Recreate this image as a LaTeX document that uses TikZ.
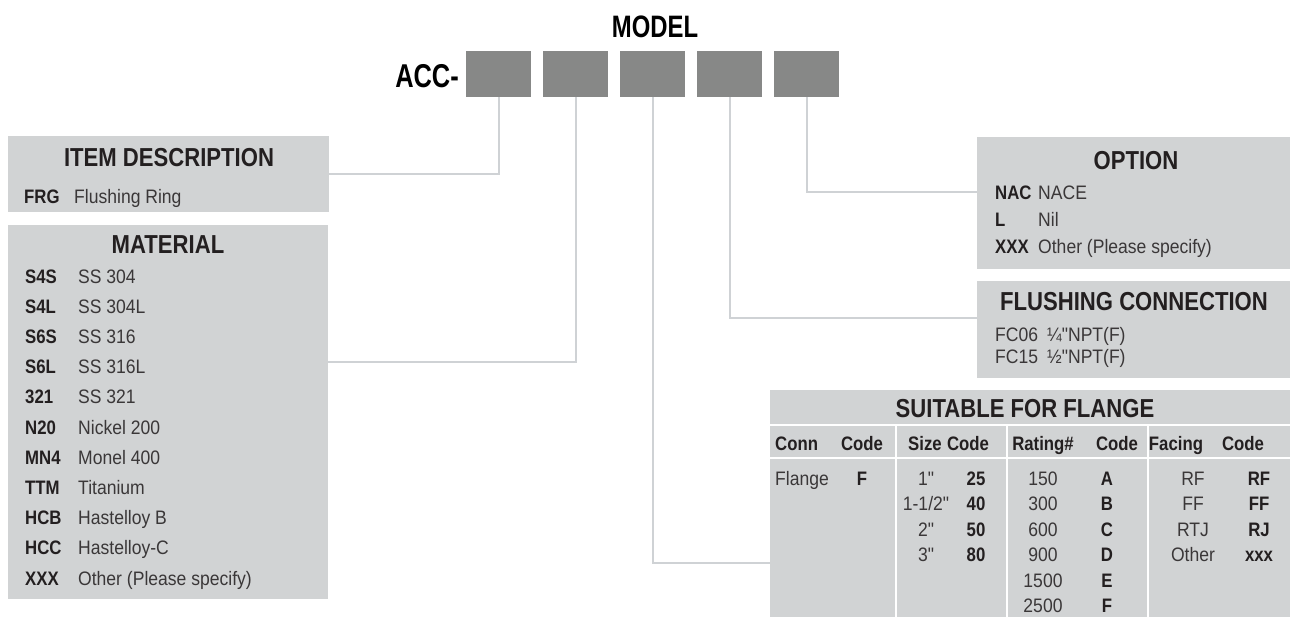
\documentclass[tikz,border=0pt]{standalone}
\usepackage{fontspec}
\setmainfont{Liberation Sans}[FakeStretch=0.9]
\newfontfamily\bdfont{Liberation Sans}[FakeStretch=0.9]
\newfontfamily\cdfont{Liberation Sans}[FakeStretch=0.86]
\newfontfamily\hdfont{Liberation Sans}[FakeStretch=0.85]
\newfontfamily\mdfont{Liberation Sans}[FakeStretch=0.77]
\usetikzlibrary{calc,positioning}
\definecolor{panelc}{HTML}{D1D3D4}
\definecolor{linec}{HTML}{CFD2D5}
\definecolor{slotc}{HTML}{878887}
\definecolor{inkc}{HTML}{231F20}
\definecolor{txtc}{HTML}{3A3738}
\tikzset{
  slot/.style={fill=slotc,minimum width=65pt,minimum height=46pt,inner sep=0pt},
  panel/.style={fill=panelc,anchor=north west,inner sep=0pt},
  cn/.style={linec,line width=2pt},
  tabsep/.style={white,line width=2pt},
  ttl/.style={font=\hdfont\bfseries\fontsize{26}{28}\selectfont,text=inkc,anchor=base,inner sep=0pt},
  big/.style={font=\mdfont\bfseries\fontsize{31}{34}\selectfont,text=black,inner sep=0pt},
  cd/.style={font=\cdfont\bfseries\fontsize{19.5}{22}\selectfont,text=inkc,anchor=base west,inner sep=0pt},
  tx/.style={font=\bdfont\fontsize{19.5}{22}\selectfont,text=txtc,anchor=base west,inner sep=0pt}
}
\begin{document}
\begin{tikzpicture}[x=1pt,y=-1pt]
\useasboundingbox (0,0) rectangle (1290,616);
% model code slots
\node[big,anchor=base] (model) at (655,37) {MODEL};
\foreach \i in {1,...,5}
  \node[slot] (m\i) at (421.5+77*\i,74) {};
\node[big,anchor=base east,font=\mdfont\bfseries\fontsize{33}{36}\selectfont] (acc) at (459,87) {ACC-};

% panels
\node[panel,minimum width=321pt,minimum height=76pt] (itemdesc) at (8,136) {};
\node[panel,minimum width=320pt,minimum height=374pt] (material) at (8,225) {};
\node[panel,minimum width=320pt,minimum height=132pt] (option) at (977,137) {};
\node[panel,minimum width=320pt,minimum height=97pt] (flushing) at (977,281) {};
\node[panel,minimum width=530pt,minimum height=230pt] (suitable) at (770,390) {};

% connectors
\draw[cn] (m1.south) |- (itemdesc.east);
\draw[cn] (m2.south) |- ($(material.north east)+(0,137)$);
\draw[cn] (m3.south) |- ($(suitable.north west)+(0,173)$);
\draw[cn] (m4.south) |- ($(flushing.north west)+(0,37)$);
\draw[cn] (m5.south) |- ($(option.north west)+(0,55)$);

% item description
\node[ttl] (itemt) at (169,166) {ITEM DESCRIPTION};
\node[cd] (frg) at (24,203) {FRG};
\node[tx] (frgx) at (74,203) {Flushing Ring};

% material
\node[ttl] (matt) at (168,253) {MATERIAL};
\foreach \c/\d [count=\k] in {S4S/SS 304,S4L/SS 304L,S6S/SS 316,S6L/SS 316L,321/SS 321,
  N20/Nickel 200,MN4/Monel 400,TTM/Titanium,HCB/Hastelloy B,HCC/Hastelloy-C,XXX/Other (Please specify)}{
  \node[cd] (mc\k) at (25,252.9+30.2*\k) {\c};
  \node[tx] (md\k) at (78,252.9+30.2*\k) {\d};}

% option
\node[ttl] (optt) at (1136,169) {OPTION};
\foreach \c/\d [count=\k] in {NAC/NACE,L/Nil,XXX/Other (Please specify)}{
  \node[cd] (oc\k) at (995,172+27*\k) {\c};
  \node[tx] (od\k) at (1038,172+27*\k) {\d};}

% flushing connection
\node[ttl] (flt) at (1134,310) {FLUSHING CONNECTION};
\node[tx] (fc1) at (995,341) {FC06};
\node[tx] (fd1) at (1047,341) {¼"NPT(F)};
\node[tx] (fc2) at (995,363) {FC15};
\node[tx] (fd2) at (1047,363) {½"NPT(F)};

% suitable for flange
\node[ttl] (suitt) at (1025,417) {SUITABLE FOR FLANGE};
\draw[tabsep] ($(suitable.north west)+(0,35)$) -- ++(530,0);
\draw[tabsep] ($(suitable.north west)+(0,68)$) -- ++(530,0);
\foreach \x in {896,1007,1148}
  \draw[tabsep] (\x,425) -- (\x,620);
\node[cd] (hconn) at (775,450) {Conn};
\foreach \x/\t [count=\k] in {862/Code,925/Size,968/Code,1043/Rating\#,1117/Code,1176/Facing,1243/Code}
  \node[cd,anchor=base] (hd\k) at (\x,450) {\t};
\node[tx] (conn) at (775,485) {Flange};
\node[cd,anchor=base] (connc) at (862,485) {F};
\foreach \s/\c [count=\k] in {{1"}/25,{1-1/2"}/40,{2"}/50,{3"}/80}{
  \node[tx,anchor=base] (sz\k) at (926,459.5+25.5*\k) {\s};
  \node[cd,anchor=base] (szc\k) at (976,459.5+25.5*\k) {\c};}
\foreach \r/\c [count=\k] in {150/A,300/B,600/C,900/D,1500/E,2500/F}{
  \node[tx,anchor=base] (rt\k) at (1043,459.5+25.5*\k) {\r};
  \node[cd,anchor=base] (rtc\k) at (1107,459.5+25.5*\k) {\c};}
\foreach \f/\c [count=\k] in {RF/RF,FF/FF,RTJ/RJ,Other/xxx}{
  \node[tx,anchor=base] (fa\k) at (1193,459.5+25.5*\k) {\f};
  \node[cd,anchor=base] (fac\k) at (1259,459.5+25.5*\k) {\c};}
\end{tikzpicture}
\end{document}
